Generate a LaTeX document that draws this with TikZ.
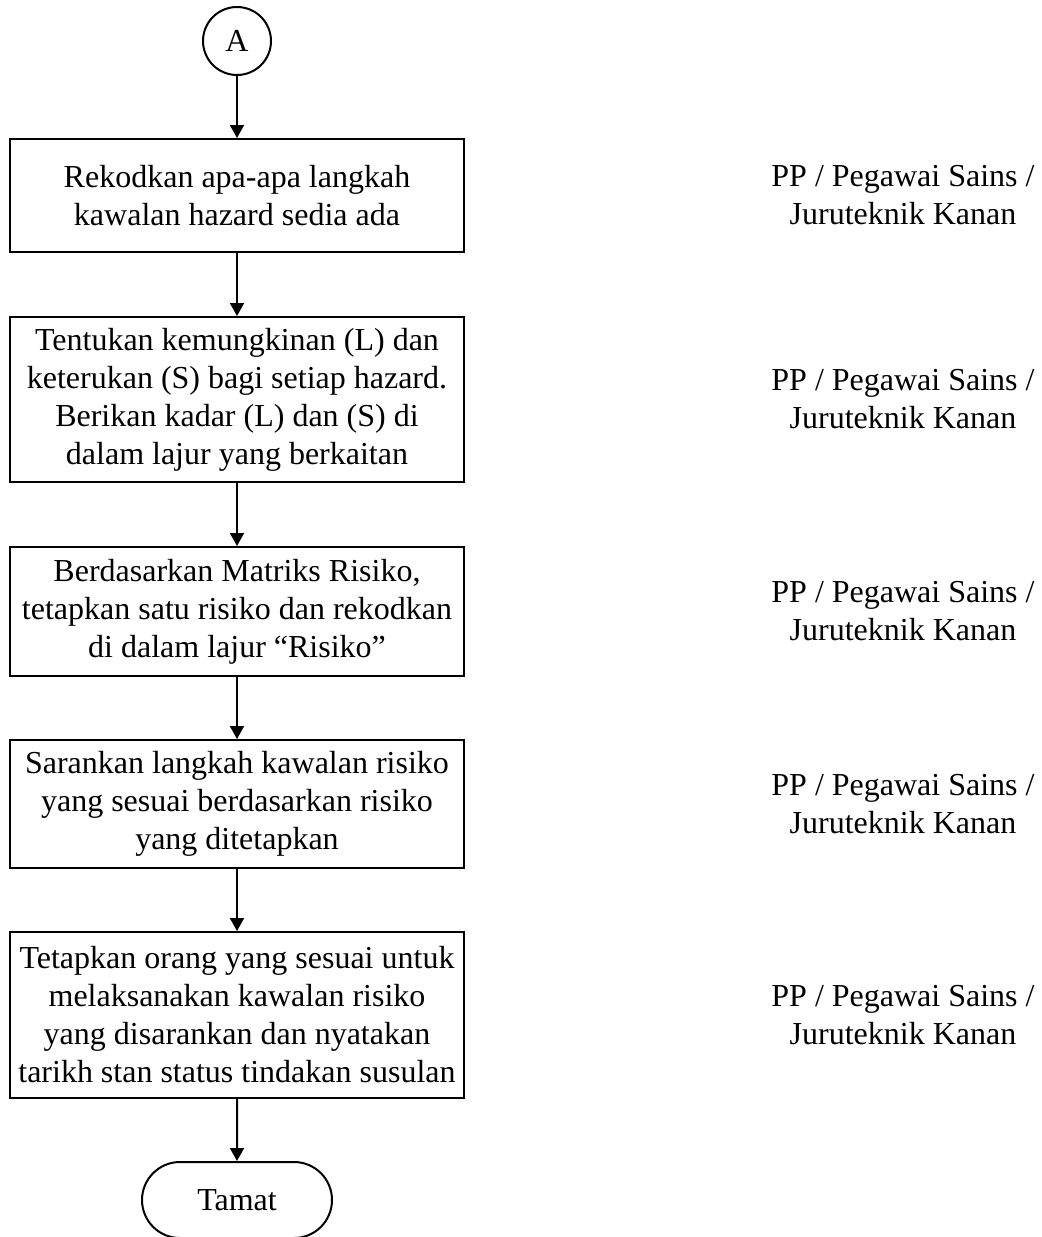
\documentclass[tikz,border=0pt]{standalone}
\usepackage{fontspec}
\setmainfont{Liberation Serif}
\usepackage{tikz}
\usetikzlibrary{shapes.misc, arrows.meta, calc}

\begin{document}
\begin{tikzpicture}[x=0.5pt, y=-0.5pt,
  every node/.style={font=\fontsize{16}{19}\selectfont, align=center, inner sep=0pt},
  stepbox/.style={draw, line width=1pt, minimum width=227pt},
  flow/.style={line width=1pt, -{Triangle[length=6.5pt, width=7pt]}}]
  \useasboundingbox (0,0) rectangle (1042,1237);
  \node[draw, circle, line width=1pt, minimum size=34pt] (a) at (237,41) {A};
  \node[stepbox, minimum height=56.5pt] (b1) at (237,195.5) {Rekodkan apa-apa langkah\\kawalan hazard sedia ada};
  \node[stepbox, minimum height=82.5pt] (b2) at (237,399.5) {Tentukan kemungkinan (L) dan\\keterukan (S) bagi setiap hazard.\\Berikan kadar (L) dan (S) di\\dalam lajur yang berkaitan};
  \node[stepbox, minimum height=64.5pt] (b3) at (237,611.5) {Berdasarkan Matriks Risiko,\\tetapkan satu risiko dan rekodkan\\di dalam lajur “Risiko”};
  \node[stepbox, minimum height=64pt] (b4) at (237,804) {Sarankan langkah kawalan risiko\\yang sesuai berdasarkan risiko\\yang ditetapkan};
  \node[stepbox, minimum height=83pt] (b5) at (237,1015) {Tetapkan orang yang sesuai untuk\\melaksanakan kawalan risiko\\yang disarankan dan nyatakan\\tarikh stan status tindakan susulan};
  \node[draw, rounded rectangle, line width=1pt, minimum width=95pt, minimum height=38pt] (end) at (237,1200) {Tamat};
  \foreach \i in {1,...,5}
    \node (r\i) at ($(b\i)+(666,0)$) {PP / Pegawai Sains /\\Juruteknik Kanan};
  \draw[flow] (a) -- (b1);
  \draw[flow] (b1) -- (b2);
  \draw[flow] (b2) -- (b3);
  \draw[flow] (b3) -- (b4);
  \draw[flow] (b4) -- (b5);
  \draw[flow] (b5) -- (end);
\end{tikzpicture}
\end{document}
